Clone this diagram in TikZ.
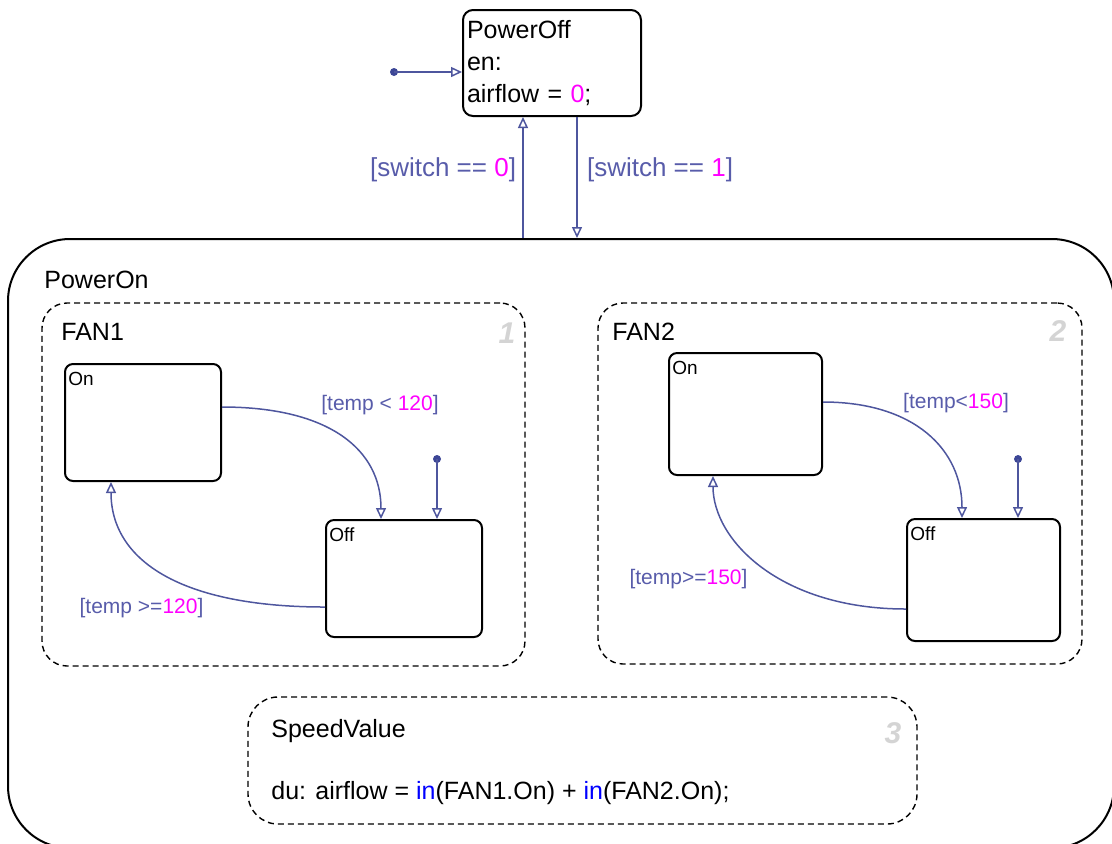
\documentclass[tikz,border=0pt]{standalone}
\usepackage{fontspec}
\setmainfont{Liberation Sans}
\usetikzlibrary{arrows.meta, positioning}
\definecolor{bleuTrans}{RGB}{78, 86, 158}
\definecolor{bleuEtiq}{RGB}{88, 92, 170}
\definecolor{bleuPoint}{RGB}{60, 70, 150}
\definecolor{magentaNum}{RGB}{255, 0, 255}
\definecolor{bleuMot}{RGB}{0, 0, 255}
\definecolor{griNum}{RGB}{212, 212, 212}
\newcommand{\valnum}[1]{\textcolor{magentaNum}{#1}}
\newcommand{\motcle}[1]{\textcolor{bleuMot}{#1}}

\begin{document}
\begin{tikzpicture}[x=0.5pt, y=-0.5pt,
  state/.style={rectangle, draw=black, line width=1pt, rounded corners=4pt,
    inner sep=0pt},
  parallel/.style={rectangle, draw=black, line width=0.7pt,
    dash pattern=on 3pt off 2pt, rounded corners=12.5pt, inner sep=0pt},
  nom/.style={anchor=north west, inner xsep=2pt, inner ysep=4pt,
    text height=7pt, font=\fontsize{9.5pt}{11pt}\selectfont},
  titre/.style={inner sep=0pt, font=\fontsize{12.5pt}{16pt}\selectfont},
  ordre/.style={inner sep=0pt, text=griNum,
    font=\fontsize{15pt}{15pt}\selectfont\bfseries\itshape},
  trans/.style={draw=bleuTrans, line width=0.75pt,
    -{Triangle[open, length=5.5pt, width=5pt]}},
  lbl/.style={inner sep=0pt, text=bleuEtiq, font=\fontsize{#1}{12pt}\selectfont},
  pointInit/.style={fill=bleuPoint},
]
\useasboundingbox (0,0) rectangle (1112,843);
\clip (0,0) rectangle (1112,843);
% superstate PowerOn
\node[state, line width=1pt, rounded corners=31pt,
  minimum width=553pt, minimum height=304.5pt] (poweron) at (561,543.5) {};
\node[titre, anchor=base west] (nomPowerOn) at (44,288) {PowerOn};
% PowerOff
\node[state, rounded corners=5pt, minimum width=89pt, minimum height=53pt,
  text width=85pt, inner xsep=2pt, align=left,
  font=\fontsize{12.5pt}{16pt}\selectfont] (poweroff) at (552,63)
  {PowerOff\\en:\\airflow = \valnum{0};};
\coordinate (init0) at (394,72);
\fill[pointInit] (init0) circle (2pt);
\draw[trans] (init0) -- (poweroff.west |- init0);
\draw[trans] (poweron.north -| 523,0) -- (poweroff.south -| 523,0);
\draw[trans] (poweroff.south -| 577,0) -- (poweron.north -| 577,0);
\node[lbl=13pt] (gardeOff) at (443,170) {[switch == \valnum{0}]};
\node[lbl=13pt] (gardeOn) at (660,170) {[switch == \valnum{1}]};
% FAN1
\node[parallel, minimum width=241.5pt, minimum height=181.5pt] (fan1) at (283.5,484.5) {};
\node[titre, anchor=base west] (nomFan1) at (61,340) {FAN1};
\node[ordre] (ordre1) at (507,333) {1};
\node[state, minimum width=78pt, minimum height=58.5pt,
  label={[nom]north west:On}] (on1) at (143,422.5) {};
\node[state, minimum width=78pt, minimum height=58.5pt,
  label={[nom]north west:Off}] (off1) at (404,578.5) {};
\coordinate (init1) at (437,459);
\fill[pointInit] (init1) circle (2pt);
\draw[trans] (init1) -- (off1.north -| init1);
\draw[trans] (on1.east |- 0,407) .. controls (330,407) and (381,450) .. (off1.north -| 381,0);
\draw[trans] (off1.west |- 0,607) .. controls (180,607) and (111,560) .. (on1.south -| 111,0);
\node[lbl=10.5pt] (garde1a) at (380,405) {[temp < \valnum{120}]};
\node[lbl=10.5pt] (garde1b) at (141.5,608) {[temp >=\valnum{120}]};
% FAN2
\node[parallel, minimum width=242pt, minimum height=180.5pt] (fan2) at (840,483.5) {};
\node[titre, anchor=base west] (nomFan2) at (612,340) {FAN2};
\node[ordre] (ordre2) at (1058,331) {2};
\node[state, minimum width=76.5pt, minimum height=61pt,
  label={[nom]north west:On}] (on2) at (745.5,414) {};
\node[state, minimum width=76.5pt, minimum height=61pt,
  label={[nom]north west:Off}] (off2) at (983.5,580) {};
\coordinate (init2) at (1018,459);
\fill[pointInit] (init2) circle (2pt);
\draw[trans] (init2) -- (off2.north -| init2);
\draw[trans] (on2.east |- 0,402) .. controls (915,402) and (962,450) .. (off2.north -| 962,0);
\draw[trans] (off2.west |- 0,609) .. controls (780,609) and (713,540) .. (on2.south -| 713,0);
\node[lbl=10.5pt] (garde2a) at (956,403) {[temp<\valnum{150}]};
\node[lbl=10.5pt] (garde2b) at (688.5,579) {[temp>=\valnum{150}]};
% SpeedValue
\node[parallel, rounded corners=15pt, minimum width=334.5pt, minimum height=63.5pt]
  (speed) at (582.5,760.5) {};
\node[titre, anchor=base west] (nomSpeed) at (271,737) {SpeedValue};
\node[ordre] (ordre3) at (893,733) {3};
\node[titre, anchor=base west] (actionDu) at (271,799)
  {du: airflow = \motcle{in}(FAN1.On) + \motcle{in}(FAN2.On);};
\end{tikzpicture}
\end{document}
